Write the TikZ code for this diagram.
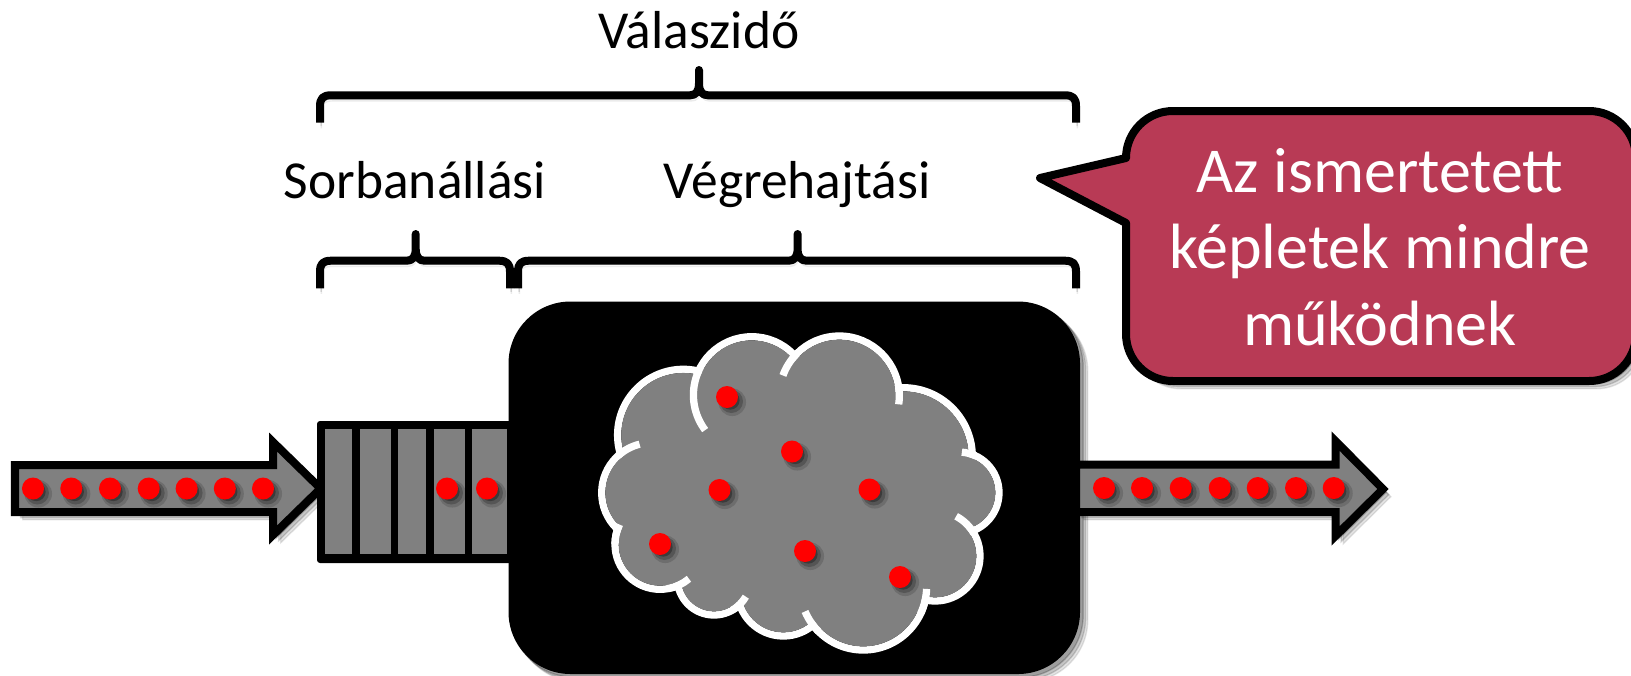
\documentclass[tikz,border=0pt]{standalone}
\usepackage{fontspec}
\setmainfont{Carlito}
\usetikzlibrary{shadows}
\definecolor{calloutred}{RGB}{184,58,85}

\tikzset{
  softshadow/.style={
    drop shadow={shadow xshift=2.2pt,shadow yshift=-2.2pt,opacity=.1,fill=black,draw=black},
    drop shadow={shadow xshift=1.6pt,shadow yshift=-1.6pt,opacity=.14,fill=black,draw=black},
    drop shadow={shadow xshift=.9pt,shadow yshift=-.9pt,opacity=.2,fill=black,draw=black}},
  lineshadow/.style={
    drop shadow={shadow xshift=.4pt,shadow yshift=-1.6pt,opacity=.08,fill=none,draw=black},
    drop shadow={shadow xshift=.3pt,shadow yshift=-1pt,opacity=.12,fill=none,draw=black}},
  flowarrow/.style={draw=black,fill=gray,line width=.08cm,miter limit=8,softshadow},
  reddot/.style={circle,fill=red,inner sep=0,minimum size=.22cm,
    drop shadow={shadow xshift=1.2pt,shadow yshift=-1.2pt,shadow scale=1.25,opacity=.14,fill=black},
    drop shadow={shadow xshift=1.2pt,shadow yshift=-1.2pt,shadow scale=1.05,opacity=.22,fill=black},
    drop shadow={shadow xshift=1.1pt,shadow yshift=-1.1pt,shadow scale=.85,opacity=.3,fill=black}},
  bracket/.style={draw=black,line width=.08cm,line join=round,lineshadow},
  label/.style={font=\fontsize{15.2}{18}\selectfont,inner sep=0,anchor=base},
  cloudline/.style={draw=white,line width=.073cm}
}

\begin{document}
\begin{tikzpicture}[x=.01cm,y=-.01cm]
\clip (0,0) rectangle (1631,675);

% Labels and brackets
\node[label] (valasz) at (699,48) {Válaszidő};
\node[label] (sorban) at (415,198) {Sorbanállási};
\node[label] (vegre) at (797,198) {Végrehajtási};
\foreach \xa/\xs/\xb/\ya/\yh/\yt in {320/699/1076/122.7/95.3/70, 320/415.7/510/288.3/260.7/234, 518/797.6/1076/288.3/260.7/234}
  \draw[bracket] (\xa,\ya) -- (\xa,\yh+11) .. controls (\xa,\yh+3) and (\xa+3,\yh) .. (\xa+11,\yh)
    -- (\xs-9,\yh) .. controls (\xs-3,\yh) and (\xs,\yh-4) .. (\xs,\yh-12) -- (\xs,\yt)
    -- (\xs,\yh-12) .. controls (\xs,\yh-4) and (\xs+3,\yh) .. (\xs+9,\yh)
    -- (\xb-11,\yh) .. controls (\xb-3,\yh) and (\xb,\yh+3) .. (\xb,\yh+11) -- (\xb,\ya);

% Incoming arrow
\draw[flowarrow] (15,465) -- (273,465) -- (273,442) -- (320.6,488.5) -- (273,535) -- (273,512) -- (15,512) -- cycle;
\foreach \x [count=\i] in {33,71.3,110,148.7,186.6,224.8,263}
  \node[reddot] (in\i) at (\x,488.5) {};

% Queue
\fill[black,rounded corners=.03cm] (317,421) rectangle (512,563);
\foreach \xa/\xb in {324.5/351.6,359.7/390.8,398.2/426,434/464.5,472/507}
  \fill[gray] (\xa,429) rectangle (\xb,554);
\node[reddot] (queue1) at (447,488.5) {};
\node[reddot] (queue2) at (487,488.5) {};

% Server
\fill[black,rounded corners=.62cm,softshadow] (508.5,301.5) rectangle (1080,674);

% Cloud: outline of every lobe, then the gray inside
\foreach \cx/\cy/\rr in {683.3/435/65.7,751.7/395/58.3,839.3/396/60,903.3/456.7/69,958.3/492.7/40.7,935/556/45,863.3/586.7/63.3,783.3/590/46,714/578.3/36.7,660/544.3/45,651.7/492.7/50}
  \draw[cloudline] (\cx,\cy) circle[radius=\rr];
\foreach \cx/\cy/\rr in {683.3/435/65.7,751.7/395/58.3,839.3/396/60,903.3/456.7/69,958.3/492.7/40.7,935/556/45,863.3/586.7/63.3,783.3/590/46,714/578.3/36.7,660/544.3/45,651.7/492.7/50}
  \fill[gray] (\cx,\cy) circle[radius=\rr-3.65];
\fill[gray] (683,435) -- (752,395) -- (839,396) -- (903,457) -- (958,493) -- (935,556) -- (863,587) -- (783,590) -- (714,578) -- (660,544) -- (652,493) -- cycle;
% Short bits of the lobes inside the cloud
\foreach \cx/\cy/\rr/\sa/\ea in {751.7/395/58.3/143/205,839.3/396/60/200/225,839.3/396/60/8/-8,958.3/492.7/40.7/-85/-65,935/556/45/-62/-30,651.7/492.7/50/228/256,660/544.3/45/180/206,660/544.3/45/50/80,714/578.3/36.7/30/60,863.3/586.7/63.3/157/135,863.3/586.7/63.3/2/25}
  \draw[cloudline] (\cx,\cy) ++(\sa:\rr) arc[start angle=\sa,end angle=\ea,radius=\rr];
\foreach \x/\y [count=\i] in {727/397,792/451.5,719.5/490,869.5/489.5,660/544,805/551,900/577}
  \node[reddot] (job\i) at (\x,\y) {};

% Outgoing arrow
\draw[flowarrow] (1076,464.7) -- (1335.5,464.7) -- (1335.5,441) -- (1383,489) -- (1335.5,536) -- (1335.5,512) -- (1076,512) -- cycle;
\foreach \x [count=\i] in {1104,1142,1180.7,1219.7,1257.7,1296,1333.7}
  \node[reddot] (out\i) at (\x,488) {};

% Callout
\draw[draw=black,fill=calloutred,line width=.08cm,line join=round,softshadow]
  (1126,223) -- (1126,334) .. controls (1126,360) and (1147,381) .. (1173,381)
  -- (1589,381) .. controls (1615,381) and (1636,360) .. (1636,334)
  -- (1636,158) .. controls (1636,132) and (1615,111) .. (1589,111)
  -- (1173,111) .. controls (1147,111) and (1126,132) .. (1126,158)
  -- (1040,178) -- cycle;
\node[white,font=\fontsize{18.2}{21.75}\selectfont,align=center,inner sep=0] (notice) at (1380,247) {Az ismertetett\\képletek mindre\\működnek};
\end{tikzpicture}
\end{document}
